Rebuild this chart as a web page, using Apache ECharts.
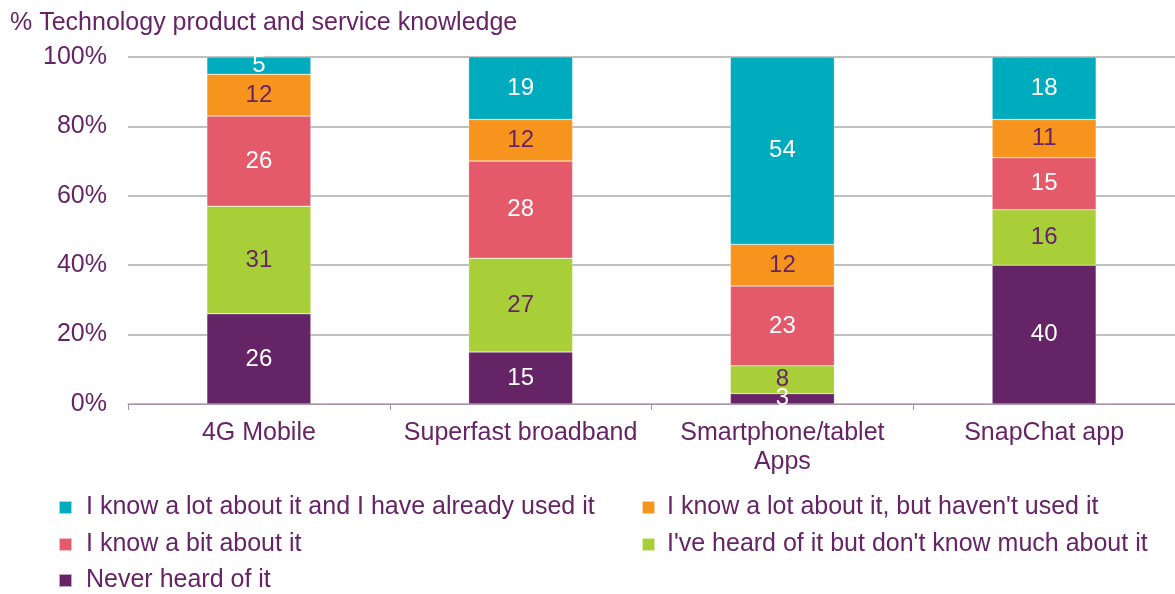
<!DOCTYPE html>
<html>
<head>
<meta charset="utf-8">
<script src="https://cdn.jsdelivr.net/npm/echarts@6/dist/echarts.min.js"></script>
<style>
  html, body { margin: 0; padding: 0; background: #fff; }
  #chart { width: 1175px; height: 594px; }
</style>
</head>
<body>
<div id="chart"></div>
<script>
var categories = ['4G Mobile', 'Superfast broadband', 'Smartphone/tablet\nApps', 'SnapChat app'];
var neverHeard = [26, 15, 3, 40];
var heardNotMuch = [31, 27, 8, 16];
var knowBit = [26, 28, 23, 15];
var knowLotNotUsed = [12, 12, 12, 11];
var knowLotUsed = [5, 19, 54, 18];
var yTicks = [0, 20, 40, 60, 80, 100];

var txt = '#662466';
var font = 'Liberation Sans, Arial, sans-serif';

function seg(name, data, color, labelColor) {
    return {
        name: name,
        type: 'bar',
        stack: 'all',
        barWidth: 104,
        data: data,
        itemStyle: { color: color, borderColor: 'rgba(255,255,255,0.6)', borderWidth: 0.5 },
        label: {
            show: true,
            position: 'inside',
            color: labelColor,
            fontSize: 24,
            fontFamily: font
        }
    };
}

// one legend per entry so that they sit in two columns
function legendItem(name, left, top, gap) {
    return {
        left: left,
        top: top,
        padding: 0,
        itemWidth: 13,
        itemHeight: 13,
        icon: 'rect',
        textStyle: { color: txt, fontSize: 25, fontFamily: font, padding: [0, 0, 0, gap] },
        data: [name]
    };
}

var option = {
    animation: false,
    title: {
        text: '% Technology product and service knowledge',
        left: 5,
        top: 6,
        textStyle: { color: txt, fontSize: 25, fontWeight: 'normal', fontFamily: font }
    },
    grid: { left: 128, right: 0, top: 57, bottom: 190 },
    legend: [
        legendItem('I know a lot about it and I have already used it', 58, 495, 9),
        legendItem("I know a lot about it, but haven't used it", 641, 495, 7),
        legendItem('I know a bit about it', 58, 532, 9),
        legendItem("I've heard of it but don't know much about it", 641, 532, 7),
        legendItem('Never heard of it', 58, 568, 9)
    ],
    xAxis: {
        type: 'category',
        data: categories,
        axisLine: { lineStyle: { color: '#A892A8', width: 1 } },
        axisTick: { show: true, length: 6, lineStyle: { color: '#A892A8' } },
        axisLabel: { color: txt, fontSize: 25, fontFamily: font, lineHeight: 29, margin: 15, interval: 0 }
    },
    yAxis: {
        type: 'value',
        min: yTicks[0],
        max: yTicks[yTicks.length - 1],
        interval: 20,
        axisLine: { show: false },
        axisTick: { show: false },
        splitLine: { lineStyle: { color: '#BFBFBF', width: 2 } },
        axisLabel: { color: txt, fontSize: 25, fontFamily: font, margin: 21, formatter: '{value}%' }
    },
    series: [
        seg('Never heard of it', neverHeard, '#652466', '#ffffff'),
        seg("I've heard of it but don't know much about it", heardNotMuch, '#A8CF38', txt),
        seg('I know a bit about it', knowBit, '#E55A6A', '#ffffff'),
        seg("I know a lot about it, but haven't used it", knowLotNotUsed, '#F7941E', txt),
        seg('I know a lot about it and I have already used it', knowLotUsed, '#00ABBD', '#ffffff')
    ]
};

var myEcharts = echarts.init(document.getElementById('chart'));
myEcharts.setOption(option);
</script>
</body>
</html>
